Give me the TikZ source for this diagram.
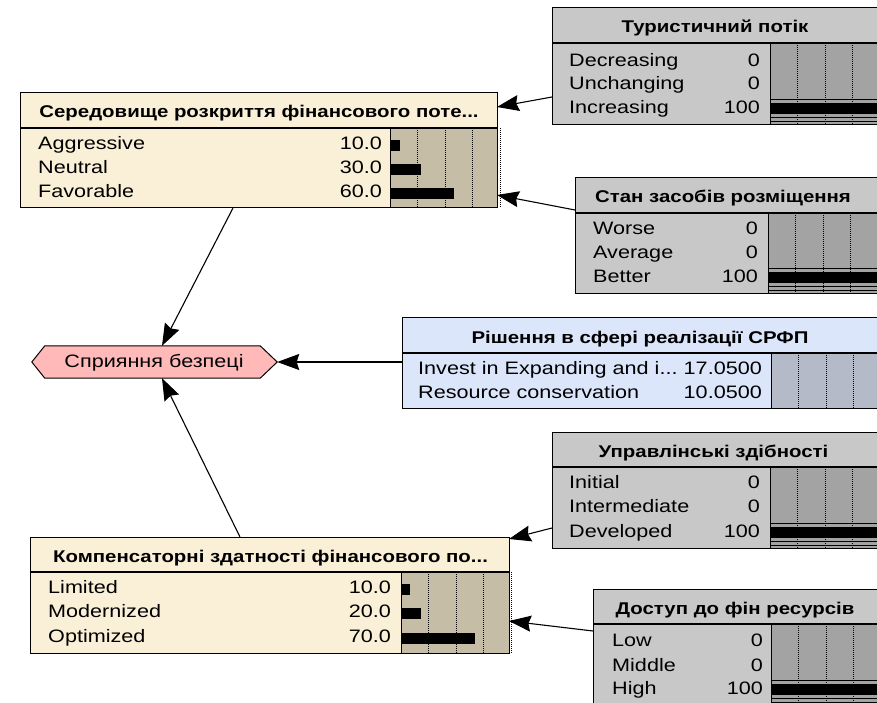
\documentclass[tikz,border=0pt]{standalone}
\usepackage{fontspec}
\setmainfont{Liberation Sans}[FakeStretch=1.2]
\usetikzlibrary{arrows.meta,calc}
\pgfdeclarelayer{bg}
\pgfsetlayers{bg,main}

\definecolor{cream}{RGB}{250,240,215}
\definecolor{tanbar}{RGB}{198,189,167}
\definecolor{graylbl}{RGB}{200,200,200}
\definecolor{graybar}{RGB}{163,163,163}
\definecolor{bluelbl}{RGB}{220,230,250}
\definecolor{bluebar}{RGB}{180,186,200}
\definecolor{utilpink}{RGB}{255,185,185}

\tikzset{
  boxbody/.style={inner sep=0pt, outer sep=0pt, anchor=north west},
  ttl/.style={font=\fontsize{17}{20}\selectfont\bfseries, inner sep=0pt, anchor=base},
  lbl/.style={font=\fontsize{18}{20}\selectfont, inner sep=0pt, anchor=base west},
  val/.style={font=\fontsize{18}{20}\selectfont, inner sep=0pt, anchor=base east},
  gridline/.style={line width=1pt, dash pattern=on 1pt off 1pt},
  link/.style={line width=1.1pt, -{Stealth[length=22pt,width=16pt,inset=2.5pt]}},
}

% #1 name, #2 x, #3 y, #4 width, #5 height, #6 title height, #7 bar-area left, #8 fill, #9 bar fill
\newcommand\netbox[9]{%
  \node[boxbody, fill=#8, minimum width=#4pt, minimum height=#5pt] (#1) at (#2,#3) {};
  \fill[#9] (#7,#3+#6) rectangle (#2+#4,#3+#5);
  \foreach \g in {27,55,82,110}
    \draw[gridline] (#7+\g,#3+#6) -- (#7+\g,#3+#5);
  \draw[line width=1pt] (#7,#3+#6) -- (#7,#3+#5);
  \draw[line width=1.6pt] (#2,#3+#6) -- (#2+#4,#3+#6);
  \draw[line width=1pt] (#1.north west) rectangle (#1.south east);
}
% #1 name, #2 label x, #3 row y, #4 label, #5 value x, #6 value
\newcommand\staterow[6]{%
  \node[lbl] (#1-l) at (#2,#3+6.5) {#4};
  \node[val] (#1-v) at (#5,#3+6.5) {#6};
}
% #1 bar x, #2 row y, #3 length
\newcommand\probbar[3]{\fill[black] (#1,#2-4) rectangle ++(#3,11);}
% full-certainty bar: #1 bar x, #2 row y
\newcommand\fullbar[2]{%
  \fill[black] (#1,#2-4) rectangle (880,#2+7);
  \draw[line width=0.8pt] (#1,#2-7.5) -- (880,#2-7.5);
  \draw[line width=0.8pt] (#1,#2+10.5) -- (880,#2+10.5);
  \draw[line width=0.8pt] (#1,#2+14) -- (880,#2+14);
}

\begin{document}
\begin{tikzpicture}[x=1pt,y=-1pt]
\useasboundingbox (0,0) rectangle (877,703);
\clip (0,0) rectangle (877,703);

% ---- Туристичний потік
\netbox{n1}{552}{8}{328}{117}{35}{770}{graylbl}{graybar}
\node[ttl] (n1-t) at (715,33) {Туристичний потік};
\staterow{n1a}{569}{60}{Decreasing}{760}{0}
\staterow{n1b}{569}{83}{Unchanging}{760}{0}
\staterow{n1c}{569}{107}{Increasing}{760}{100}
\fullbar{770}{107}

% ---- Середовище розкриття фінансового потенціалу
\netbox{n2}{20}{93}{477}{115}{35}{390}{cream}{tanbar}
\node[ttl] (n2-t) at (259,118) {Середовище розкриття фінансового поте...};
\staterow{n2a}{38}{143}{Aggressive}{382}{10.0}
\staterow{n2b}{38}{167}{Neutral}{382}{30.0}
\staterow{n2c}{38}{191}{Favorable}{382}{60.0}
\probbar{390}{144}{10}
\probbar{390}{168}{31}
\probbar{390}{192}{64}

% ---- Стан засобів розміщення
\netbox{n3}{575}{178}{305}{115}{35}{768}{graylbl}{graybar}
\node[ttl] (n3-t) at (723,203) {Стан засобів розміщення};
\staterow{n3a}{593}{228}{Worse}{758}{0}
\staterow{n3b}{593}{252}{Average}{758}{0}
\staterow{n3c}{593}{276}{Better}{758}{100}
\fullbar{768}{276}

% ---- Рішення в сфері реалізації СРФП (decision)
\netbox{n4}{402}{317}{478}{91}{36}{771}{bluelbl}{bluebar}
\node[ttl] (n4-t) at (640,343) {Рішення в сфері реалізації СРФП};
\staterow{n4a}{418}{368}{Invest in Expanding and i...}{762}{17.0500}
\staterow{n4b}{418}{392}{Resource conservation}{762}{10.0500}

% ---- Сприяння безпеці (utility)
\node[inner sep=0pt, minimum width=245pt, minimum height=32pt] (n5) at (154.5,362) {};
\begin{pgfonlayer}{bg}
  \fill[white] (0,0) rectangle (877,703);
  \draw[line width=1pt, fill=utilpink] (n5.west) -- ([xshift=13pt]n5.north west)
    -- ([xshift=-17pt]n5.north east) -- (n5.east)
    -- ([xshift=-17pt]n5.south east) -- ([xshift=13pt]n5.south west) -- cycle;
\end{pgfonlayer}
\node[font=\fontsize{18}{20}\selectfont, inner sep=0pt, anchor=base] (n5-t) at (154,367.5) {Сприяння безпеці};

% ---- Управлінські здібності
\netbox{n6}{552}{432}{328}{116}{35}{770}{graylbl}{graybar}
\node[ttl] (n6-t) at (713.5,457) {Управлінські здібності};
\staterow{n6a}{569}{482}{Initial}{760}{0}
\staterow{n6b}{569}{506}{Intermediate}{760}{0}
\staterow{n6c}{569}{531}{Developed}{760}{100}
\fullbar{770}{531}

% ---- Компенсаторні здатності фінансового потенціалу
\netbox{n7}{30}{537}{479}{116}{35}{401}{cream}{tanbar}
\node[ttl] (n7-t) at (270.5,562) {Компенсаторні здатності фінансового по...};
\staterow{n7a}{48}{587}{Limited}{391}{10.0}
\staterow{n7b}{48}{611}{Modernized}{391}{20.0}
\staterow{n7c}{48}{636}{Optimized}{391}{70.0}
\probbar{401}{588}{9}
\probbar{401}{612}{20}
\probbar{401}{637}{74}

% ---- Доступ до фін ресурсів
\netbox{n8}{593}{589}{287}{130}{35}{771}{graylbl}{graybar}
\node[ttl] (n8-t) at (735,614) {Доступ до фін ресурсів};
\staterow{n8a}{612}{640}{Low}{763}{0}
\staterow{n8b}{612}{665}{Middle}{763}{0}
\staterow{n8c}{612}{688}{High}{763}{100}
\fullbar{771}{688}

% ---- links
\draw[link] ([yshift=-89pt]n1.north west) -- ([yshift=-14pt]n2.north east);
\draw[link] ([yshift=-32pt]n3.north west) -- ([yshift=-102pt]n2.north east);
\draw[link] ([xshift=213pt]n2.south west) -- ([xshift=7.5pt]n5.north);
\draw[link] ([yshift=-45pt]n4.north west) -- (n5.east);
\draw[link] ([xshift=210pt]n7.north west) -- ([xshift=7.5pt]n5.south);
\draw[link] ([yshift=-96pt]n6.north west) -- ([yshift=-2pt]n7.north east);
\draw[link] ([yshift=-42pt]n8.north west) -- ([yshift=-84pt]n7.north east);
\end{tikzpicture}
\end{document}
